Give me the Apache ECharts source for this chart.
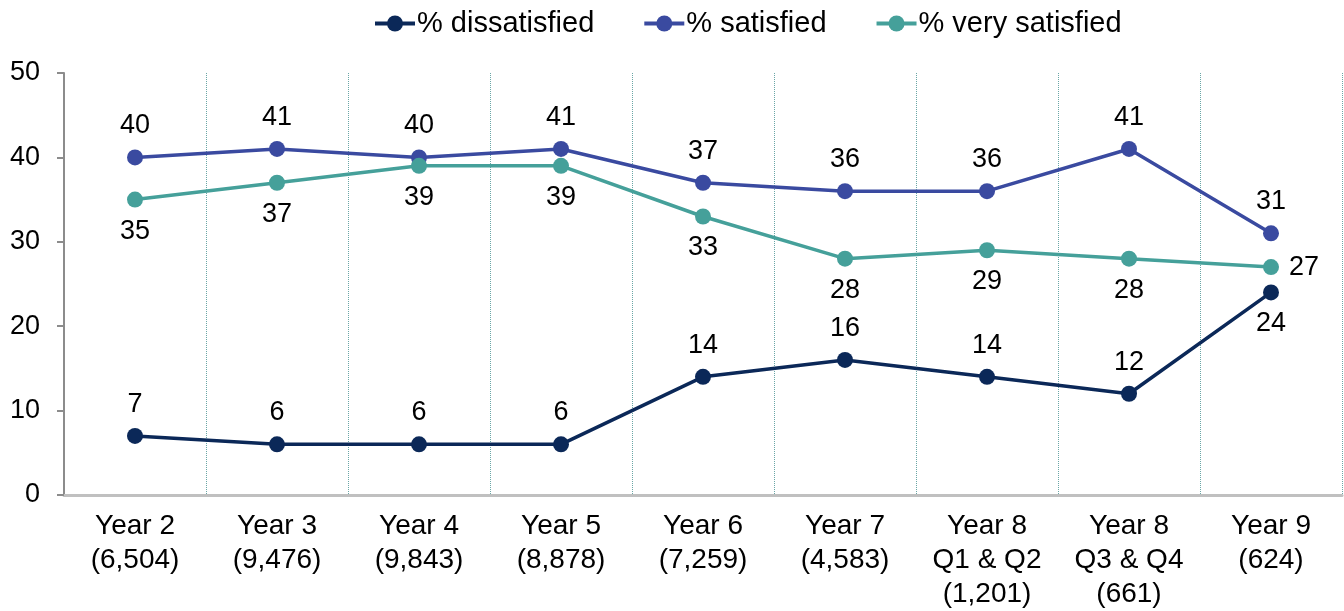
<!DOCTYPE html>
<html><head><meta charset="utf-8">
<script src="https://cdn.jsdelivr.net/npm/echarts@6/dist/echarts.min.js"></script>
<style>html,body{margin:0;padding:0;background:#fff}#c{width:1344px;height:611px}</style>
</head><body><div id="c"></div>
<script>
const categories = ['Year 2\n(6,504)','Year 3\n(9,476)','Year 4\n(9,843)','Year 5\n(8,878)','Year 6\n(7,259)','Year 7\n(4,583)','Year 8\nQ1 & Q2\n(1,201)','Year 8\nQ3 & Q4\n(661)','Year 9\n(624)'];
const dissatisfied = [7,6,6,6,14,16,14,12,24];
const satisfied = [40,41,40,41,37,36,36,41,31];
const verySatisfied = [35,37,39,39,33,28,29,28,27];
const yTicks = [0,10,20,30,40,50];

const font = 'Liberation Sans, Arial, sans-serif';
const lbl = {show:true, fontSize:27, color:'#000', fontFamily:font, distance:10};
const chart = echarts.init(document.getElementById('c'));
chart.setOption({
  animation:false,
  legend:{top:4,left:368,itemGap:48,itemWidth:40,itemHeight:20,
    lineStyle:{width:4},
    textStyle:{fontSize:29,color:'#000',fontFamily:font,padding:[0,0,0,-3]},
    data:['% dissatisfied','% satisfied','% very satisfied']},
  grid:{left:64,right:2,top:73,bottom:114,containLabel:false},
  xAxis:{type:'category',data:categories,boundaryGap:true,
    axisLine:{lineStyle:{color:'#c0c0c0',width:3}},
    axisTick:{show:false},
    axisLabel:{fontSize:28,color:'#000',fontFamily:font,lineHeight:34,margin:14,interval:0},
    splitLine:{show:true,interval:0,lineStyle:{color:'#6aa6a6',width:1,type:'dotted'}}},
  yAxis:{type:'value',min:yTicks[0],max:yTicks[yTicks.length-1],interval:10,
    axisLine:{show:true,lineStyle:{color:'#8c8c8c',width:2}},
    axisTick:{show:true,inside:false,length:7,lineStyle:{color:'#8c8c8c',width:2}},
    axisLabel:{fontSize:27,color:'#000',fontFamily:font,margin:24},
    splitLine:{show:false}},
  series:[
    {name:'% dissatisfied',type:'line',data:dissatisfied.map((v,i)=>({value:v,label:{position: i===8?'bottom':'top'}})),
     color:'#0b2858',symbol:'circle',symbolSize:16,lineStyle:{width:3.5,color:'#0b2858'},itemStyle:{color:'#0b2858'},label:lbl,z:3},
    {name:'% satisfied',type:'line',data:satisfied,
     color:'#3a4aa0',symbol:'circle',symbolSize:16,lineStyle:{width:3.5,color:'#3a4aa0'},itemStyle:{color:'#3a4aa0'},label:Object.assign({},lbl,{position:'top'}),z:2},
    {name:'% very satisfied',type:'line',data:verySatisfied.map((v,i)=>({value:v,label:{position: i===8?'right':'bottom'}})),
     color:'#45a09a',symbol:'circle',symbolSize:16,lineStyle:{width:3.5,color:'#45a09a'},itemStyle:{color:'#45a09a'},label:lbl,z:2}
  ]
});
</script></body></html>
